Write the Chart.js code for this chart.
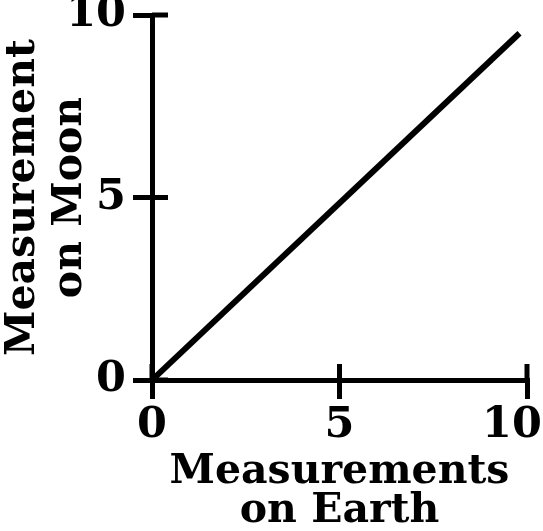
<!DOCTYPE html>
<html>
<head>
<meta charset="utf-8">
<script src="https://cdn.jsdelivr.net/npm/chart.js@4/dist/chart.umd.min.js"></script>
<style>
  html, body { margin: 0; padding: 0; background: #fff; }
  #wrap { width: 543px; height: 531px; }
</style>
</head>
<body>
<div id="wrap"><canvas id="moonChart"></canvas></div>
<script>
const earthValues = [0, 9.8];
const moonValues = [0, 9.5];
const xTickValues = [0, 5, 10];
const yTickValues = [0, 5, 10];
const xTitle = ['Measurements', 'on Earth'];
const yTitle = ['Measurement', 'on Moon'];

const FONT = '"DejaVu Serif", serif';

// ticks in the reference cross the axis, Chart.js only draws the outer half
const innerTicks = {
    id: 'innerTicks',
    afterDraw(chart) {
        const ctx = chart.ctx;
        const xs = chart.scales.x, ys = chart.scales.y;
        const len = 16;
        ctx.save();
        ctx.strokeStyle = '#000';
        ctx.lineWidth = 5;
        ctx.lineCap = 'butt';
        xTickValues.forEach(v => {
            const px = xs.getPixelForValue(v);
            ctx.beginPath();
            ctx.moveTo(px, ys.bottom);
            ctx.lineTo(px, ys.bottom - len);
            ctx.stroke();
        });
        yTickValues.forEach(v => {
            const py = ys.getPixelForValue(v);
            ctx.beginPath();
            ctx.moveTo(xs.left, py);
            ctx.lineTo(xs.left + len, py);
            ctx.stroke();
        });
        ctx.restore();
    }
};

new Chart(document.getElementById('moonChart'), {
    type: 'scatter',
    data: {
        datasets: [{
            data: earthValues.map((e, i) => ({ x: e, y: moonValues[i] })),
            showLine: true,
            borderColor: '#000',
            borderWidth: 6,
            pointRadius: 0,
            fill: false
        }]
    },
    options: {
        responsive: true,
        maintainAspectRatio: false,
        animation: false,
        layout: { padding: { top: 15, right: 16, left: 0, bottom: 0 } },
        plugins: { legend: { display: false }, tooltip: { enabled: false } },
        scales: {
            x: {
                type: 'linear',
                min: 0, max: 10,
                afterBuildTicks: s => { s.ticks = xTickValues.map(v => ({ value: v })); },
                afterFit: s => { s.height = 151; s.paddingLeft = 0; s.paddingRight = 0; },
                border: { display: true, color: '#000', width: 5 },
                grid: { drawOnChartArea: false, drawTicks: true, tickLength: 19, color: '#000', lineWidth: 5 },
                ticks: {
                    color: '#000', padding: 1, maxRotation: 0,
                    // last label sits against the canvas edge, nudge it inward
                    callback: v => v === 10 ? v + '\u2007' : String(v),
                    font: { family: FONT, size: 43, weight: 'bold' }
                },
                title: {
                    display: true, text: xTitle, color: '#000', padding: 0,
                    font: { family: FONT, size: 41, weight: 'bold', lineHeight: 0.95 }
                }
            },
            y: {
                type: 'linear',
                min: 0, max: 10,
                afterBuildTicks: s => { s.ticks = yTickValues.map(v => ({ value: v })); },
                afterFit: s => { s.width = 152; s.paddingTop = 0; s.paddingBottom = 0; },
                border: { display: true, color: '#000', width: 5 },
                grid: { drawOnChartArea: false, drawTicks: true, tickLength: 19, color: '#000', lineWidth: 5 },
                ticks: {
                    color: '#000', padding: 7,
                    font: { family: FONT, size: 43, weight: 'bold' }
                },
                title: {
                    display: true, text: yTitle, color: '#000', padding: 0,
                    font: { family: FONT, size: 41, weight: 'bold', lineHeight: 1.15 }
                }
            }
        }
    },
    plugins: [innerTicks]
});
</script>
</body>
</html>
